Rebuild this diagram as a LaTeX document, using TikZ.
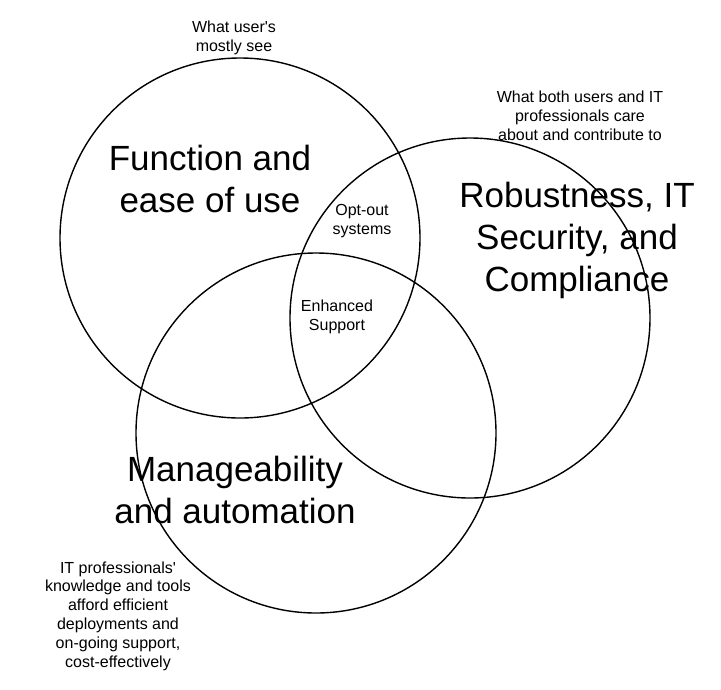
\documentclass[tikz,border=0pt]{standalone}
\usepackage{fontspec}
\setmainfont{Liberation Sans}
\newfontfamily\plainsans{Liberation Sans}
\begin{document}
\begin{tikzpicture}[x=1pt,y=-1pt,
  ring/.style={circle,draw=black,line width=1.4pt,minimum size=360pt,inner sep=0pt},
  bigtext/.style={align=center,inner sep=0pt,font=\plainsans\fontsize{35}{42}\selectfont},
  smalltext/.style={align=center,inner sep=0pt,font=\plainsans\fontsize{16}{18.8}\selectfont}]
\useasboundingbox (0,0) rectangle (721,689);
\fill[white] (0,0) rectangle (721,689);
\node[ring] (c1) at (240,238) {};
\node[ring] (c2) at (470,318) {};
\node[ring] (c3) at (316,433) {};
\node[bigtext] (t1) at (210,179) {Function and\\ease of use};
\node[bigtext] (t2) at (577,240) {Robustness, IT\\Security, and\\Compliance};
\node[bigtext] (t3) at (235,490) {Manageability\\and automation};
\node[smalltext] (s1) at (234,38) {What user's\\mostly see};
\node[smalltext] (s2) at (580,116) {What both users and IT\\professionals care\\about and contribute to};
\node[smalltext] (s3) at (118,616) {IT professionals'\\knowledge and tools\\afford efficient\\deployments and\\on-going support,\\cost-effectively};
\node[smalltext] (s4) at (362,221) {Opt-out\\systems};
\node[smalltext] (s5) at (337,317) {Enhanced\\Support};
\end{tikzpicture}
\end{document}
